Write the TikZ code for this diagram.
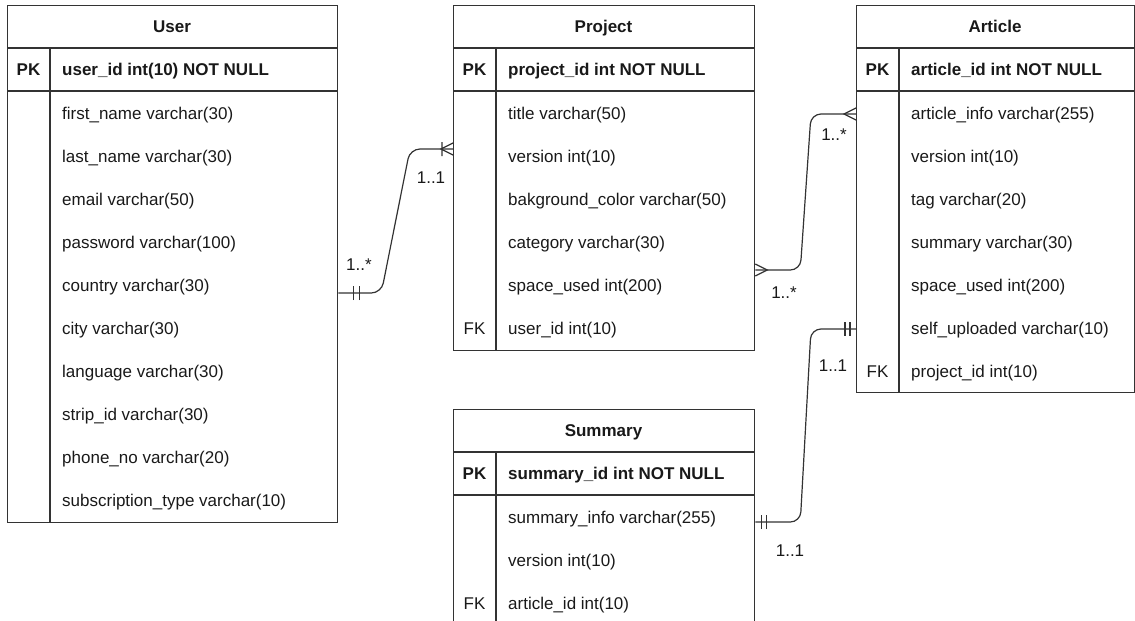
\documentclass[tikz,border=0pt]{standalone}
\usepackage{fontspec}
\setmainfont{Liberation Sans}
\usetikzlibrary{arrows.meta,calc}

% crow's foot ends
\pgfdeclarearrow{
  name = many,
  setup code = {
    \pgfarrowssettipend{0pt}
    \pgfarrowssetlineend{0pt}
    \pgfarrowssetbackend{-12pt}
    \pgfarrowshullpoint{0pt}{6pt}
    \pgfarrowshullpoint{0pt}{-6pt}
    \pgfarrowshullpoint{-12pt}{0pt}
  },
  drawing code = {
    \pgfpathmoveto{\pgfpoint{0pt}{6pt}}
    \pgfpathlineto{\pgfpoint{-12pt}{0pt}}
    \pgfpathlineto{\pgfpoint{0pt}{-6pt}}
    \pgfusepathqstroke
  }
}
\pgfdeclarearrow{
  name = onemany,
  setup code = {
    \pgfarrowssettipend{0pt}
    \pgfarrowssetlineend{0pt}
    \pgfarrowssetbackend{-12pt}
    \pgfarrowshullpoint{0pt}{7pt}
    \pgfarrowshullpoint{0pt}{-7pt}
    \pgfarrowshullpoint{-12pt}{7pt}
    \pgfarrowshullpoint{-12pt}{-7pt}
  },
  drawing code = {
    \pgfpathmoveto{\pgfpoint{0pt}{6pt}}
    \pgfpathlineto{\pgfpoint{-12pt}{0pt}}
    \pgfpathlineto{\pgfpoint{0pt}{-6pt}}
    \pgfpathmoveto{\pgfpoint{-11pt}{7pt}}
    \pgfpathlineto{\pgfpoint{-11pt}{-7pt}}
    \pgfusepathqstroke
  }
}
% two bars
\pgfdeclarearrow{
  name = one,
  parameters = {\the\pgfarrowlength,\the\pgfarrowinset},
  setup code = {
    \pgfarrowssettipend{0pt}
    \pgfarrowssetlineend{0pt}
    \pgfarrowssetbackend{-\pgfarrowlength}
    \pgfarrowshullpoint{0pt}{7pt}
    \pgfarrowshullpoint{0pt}{-7pt}
    \pgfarrowshullpoint{-\pgfarrowlength}{7pt}
    \pgfarrowshullpoint{-\pgfarrowlength}{-7pt}
    \pgfarrowssavethe\pgfarrowlength
    \pgfarrowssavethe\pgfarrowinset
  },
  drawing code = {
    \pgfpathmoveto{\pgfpoint{-\pgfarrowinset}{7pt}}
    \pgfpathlineto{\pgfpoint{-\pgfarrowinset}{-7pt}}
    \pgfpathmoveto{\pgfpoint{-\pgfarrowlength}{7pt}}
    \pgfpathlineto{\pgfpoint{-\pgfarrowlength}{-7pt}}
    \pgfusepathqstroke
  },
  defaults = {length = 11pt, inset = 6pt}
}

\begin{document}
\begin{tikzpicture}[
    x=1pt, y=-1pt,
    txt/.style={inner sep=0pt, text height=14.5pt, text depth=3pt, text=black!90},
    tbl/.style={rectangle, draw=black!80, line width=1.3pt, anchor=north west, inner sep=0pt},
    hd/.style={txt, font=\fontsize{17}{20}\selectfont\bfseries},
    fld/.style={txt, anchor=west, font=\fontsize{17}{20}\selectfont},
    keyfld/.style={fld, font=\fontsize{17}{20}\selectfont\bfseries},
    keytag/.style={txt, font=\fontsize{17}{20}\selectfont},
    sep/.style={draw=black!80, line width=1.3pt},
    conn/.style={draw=black!80, line width=1.2pt, rounded corners=10pt},
    card/.style={txt, font=\fontsize{17}{20}\selectfont},
    ]
  \useasboundingbox (0,0) rectangle (1135,621);

  % tables
  \node[tbl, minimum width=330pt, minimum height=517pt] (user) at (7,5) {};
  \node[tbl, minimum width=301pt, minimum height=345pt] (project) at (453,5) {};
  \node[tbl, minimum width=278pt, minimum height=387pt] (article) at (856,5) {};
  \node[tbl, minimum width=301pt, minimum height=230pt] (summary) at (453,409) {};
  \foreach \t in {user,project,article,summary}
    \draw[sep] ([yshift=-43pt]\t.north west) -- ([yshift=-43pt]\t.north east)
               ([yshift=-86pt]\t.north west) -- ([yshift=-86pt]\t.north east)
               ([shift={(43pt,-43pt)}]\t.north west) -- ([xshift=43pt]\t.south west);

  % User
  \node[hd] (userhd) at (172,27) {User};
  \node[hd] (userpk) at (28.5,70) {PK};
  \node[keyfld] (userid) at (62,70) {user\_id int(10) NOT NULL};
  \node[fld] (u1) at (62,114) {first\_name varchar(30)};
  \node[fld] (u2) at (62,157) {last\_name varchar(30)};
  \node[fld] (u3) at (62,200) {email varchar(50)};
  \node[fld] (u4) at (62,243) {password varchar(100)};
  \node[fld] (u5) at (62,286) {country varchar(30)};
  \node[fld] (u6) at (62,329) {city varchar(30)};
  \node[fld] (u7) at (62,372) {language varchar(30)};
  \node[fld] (u8) at (62,415) {strip\_id varchar(30)};
  \node[fld] (u9) at (62,458) {phone\_no varchar(20)};
  \node[fld] (u10) at (62,501) {subscription\_type varchar(10)};

  % Project
  \node[hd] (projecthd) at (603.5,27) {Project};
  \node[hd] (projectpk) at (474.5,70) {PK};
  \node[keyfld] (projectid) at (508,70) {project\_id int NOT NULL};
  \node[fld] (p1) at (508,114) {title varchar(50)};
  \node[fld] (p2) at (508,157) {version int(10)};
  \node[fld] (p3) at (508,200) {bakground\_color varchar(50)};
  \node[fld] (p4) at (508,243) {category varchar(30)};
  \node[fld] (p5) at (508,286) {space\_used int(200)};
  \node[keytag] (projectfk) at (474.5,329) {FK};
  \node[fld] (p6) at (508,329) {user\_id int(10)};

  % Article
  \node[hd] (articlehd) at (995,27) {Article};
  \node[hd] (articlepk) at (877.5,70) {PK};
  \node[keyfld] (articleid) at (911,70) {article\_id int NOT NULL};
  \node[fld] (a1) at (911,114) {article\_info varchar(255)};
  \node[fld] (a2) at (911,157) {version int(10)};
  \node[fld] (a3) at (911,200) {tag varchar(20)};
  \node[fld] (a4) at (911,243) {summary varchar(30)};
  \node[fld] (a5) at (911,286) {space\_used int(200)};
  \node[fld] (a6) at (911,329) {self\_uploaded varchar(10)};
  \node[keytag] (articlefk) at (877.5,372) {FK};
  \node[fld] (a7) at (911,372) {project\_id int(10)};

  % Summary
  \node[hd] (summaryhd) at (603.5,431) {Summary};
  \node[hd] (summarypk) at (474.5,474) {PK};
  \node[keyfld] (summaryid) at (508,474) {summary\_id int NOT NULL};
  \node[fld] (s1) at (508,518) {summary\_info varchar(255)};
  \node[fld] (s2) at (508,561) {version int(10)};
  \node[keytag] (summaryfk) at (474.5,604) {FK};
  \node[fld] (s3) at (508,604) {article\_id int(10)};

  % relations
  \draw[conn, {one[length=21pt, inset=15pt]}-{onemany}]
    ($(user.east |- u5)+(0,7)$) -- ++(43,0)
    -- ($(project.west |- p1)+(-43,35)$) -- ($(project.west |- p1)+(0,35)$);
  \draw[conn, {many}-{many}]
    ($(project.east |- p4)+(0,27)$) -- ++(45,0)
    -- ($(article.west |- a1)+(-45,0)$) -- (article.west |- a1);
  \draw[conn, {one}-{one}]
    ($(summary.east |- s1)+(0,4)$) -- ++(45,0)
    -- ($(article.west |- a6)+(-45,0)$) -- (article.west |- a6);

  % cardinalities
  \node[card] (c1) at (359,265) {1..*};
  \node[card] (c2) at (431,178) {1..1};
  \node[card] (c3) at (784,293) {1..*};
  \node[card] (c4) at (834,135) {1..*};
  \node[card] (c5) at (790,551) {1..1};
  \node[card] (c6) at (833,366) {1..1};
\end{tikzpicture}
\end{document}
